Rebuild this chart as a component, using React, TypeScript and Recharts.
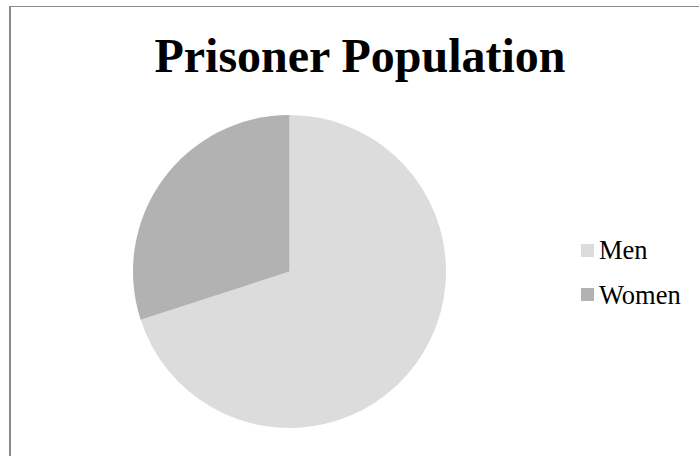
import React from 'react';
import { PieChart, Pie, Cell, Legend } from 'recharts';

const categories = ['Men', 'Women'];
const values = [70, 30];
const colors = ['#dcdcdc', '#b2b2b2'];
const title = 'Prisoner Population';

const data = categories.map((name, i) => ({ name, value: values[i] }));

const FONT = "'Liberation Serif', 'Times New Roman', Times, serif";

const LegendContent = (props: any) => {
  const payload = props.payload || [];
  return (
    <div style={{ fontFamily: FONT }}>
      {payload.map((entry: any) => (
        <div
          key={entry.value}
          style={{ display: 'flex', alignItems: 'flex-start', height: 44.5 }}
        >
          <div
            style={{
              width: 13,
              height: 13,
              marginTop: 6.9,
              marginLeft: 0.7,
              background: entry.color,
            }}
          />
          <span
            style={{
              marginLeft: 5.3,
              fontSize: 26.5,
              lineHeight: '26.5px',
              color: '#000',
            }}
          >
            {entry.value}
          </span>
        </div>
      ))}
    </div>
  );
};

export default function App() {
  return (
    <div
      style={{
        position: 'absolute',
        left: 0,
        top: 0,
        width: 699,
        height: 456,
        background: '#fff',
        overflow: 'hidden',
      }}
    >
      <div
        style={{
          position: 'absolute',
          left: 9,
          top: 6,
          width: 800,
          height: 600,
          borderLeft: '2px solid #8a8a8a',
          borderTop: '1px solid #8a8a8a',
        }}
      />
      <div
        style={{
          position: 'absolute',
          left: 0,
          top: 31.5,
          width: 720,
          textAlign: 'center',
          fontFamily: FONT,
          fontWeight: 'bold',
          fontSize: 48,
          lineHeight: '48px',
          color: '#000',
        }}
      >
        {title}
      </div>
      <div style={{ position: 'absolute', left: 0, top: 0 }}>
        <PieChart
          width={699}
          height={456}
          margin={{ top: 0, right: 0, bottom: 0, left: 0 }}
        >
          <Pie
            data={data}
            dataKey="value"
            nameKey="name"
            cx={289.5}
            cy={271.5}
            outerRadius={156.5}
            startAngle={90}
            endAngle={-270}
            stroke="none"
            isAnimationActive={false}
          >
            {data.map((d, i) => (
              <Cell key={d.name} fill={colors[i]} />
            ))}
          </Pie>
          <Legend
            layout="vertical"
            align="right"
            verticalAlign="top"
            content={LegendContent}
            wrapperStyle={{ left: 580, top: 237.1, width: 115 }}
          />
        </PieChart>
      </div>
    </div>
  );
}
